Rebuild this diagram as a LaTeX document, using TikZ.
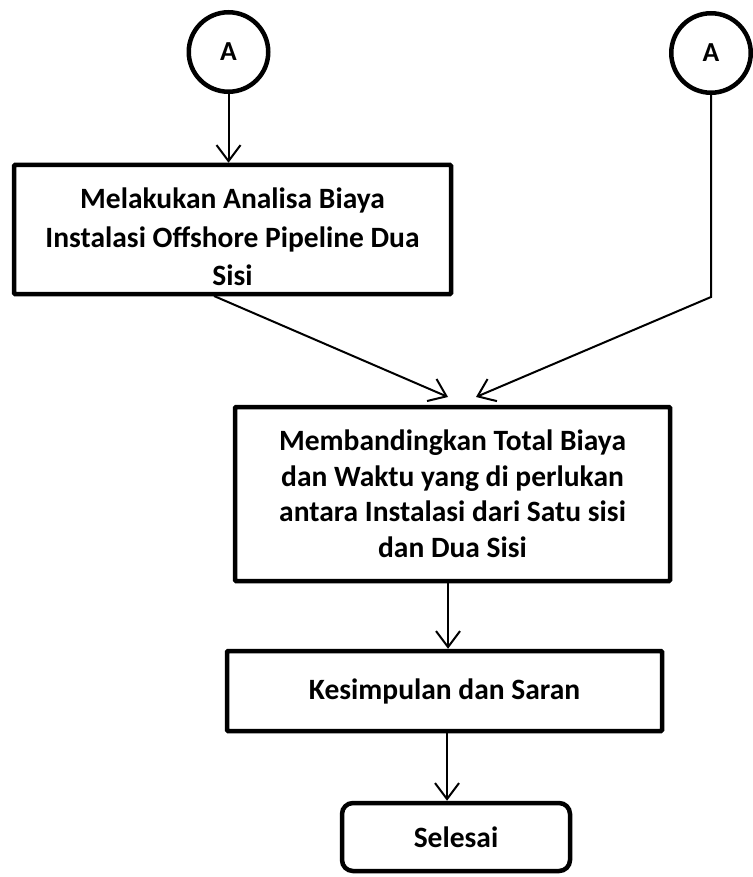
\documentclass[tikz,border=0pt]{standalone}
\usepackage{fontspec}
\setmainfont{Carlito}
\usetikzlibrary{arrows.meta}
\tikzset{
  flowbox/.style={draw, line width=4.5pt, rectangle, rounded corners=1pt, align=center,
    font=\bfseries\fontsize{29.5}{38.5}\selectfont, inner sep=0pt},
  endbox/.style={flowbox, rounded corners=11pt},
  connector/.style={draw, circle, line width=4.5pt, minimum size=79.5pt, inner sep=0pt,
    font=\bfseries\fontsize{27.5}{30}\selectfont},
  link/.style={line width=2pt, -{Straight Barb[length=16pt, width=24pt, line width=2pt]}}
}
\begin{document}
\begin{tikzpicture}[x=1pt, y=-1pt]
  \useasboundingbox (0,0) rectangle (752,877);

  % off-page connectors
  \node[connector] (ca) at (228.5,52) {A};
  \node[connector] (cb) at (711,53) {A};

  % process steps
  \node[flowbox, minimum width=437pt, minimum height=129pt] (analisa) at (232.5,229.5)
    {\rule{0pt}{36pt}Melakukan Analisa Biaya\\Instalasi Offshore Pipeline Dua\\Sisi};
  \node[flowbox, minimum width=435pt, minimum height=174pt,
        font=\bfseries\fontsize{29.5}{35.5}\selectfont] (banding) at (452.5,494)
    {Membandingkan Total Biaya\\dan Waktu yang di perlukan\\antara Instalasi dari Satu sisi\\dan Dua Sisi};
  \node[flowbox, minimum width=435pt, minimum height=80pt] (simpul) at (444.5,691)
    {Kesimpulan dan Saran};
  \node[endbox, minimum width=228pt, minimum height=68pt] (selesai) at (456,837)
    {Selesai};

  % helper points for the converging connectors
  \coordinate (s1) at (214,296);
  \coordinate (t1) at (448,397);
  \coordinate (bend) at (711,297);
  \coordinate (t2) at (476,397);

  % connectors
  \draw[link] (ca.south) -- (ca.south |- analisa.north);
  \draw[link] (s1) -- (t1);
  \draw[link] (cb.south) -- (bend) -- (t2);
  \draw[link] (448,0 |- banding.south) -- (448,0 |- simpul.north);
  \draw[link] (447,0 |- simpul.south) -- (447,0 |- selesai.north);
\end{tikzpicture}
\end{document}
